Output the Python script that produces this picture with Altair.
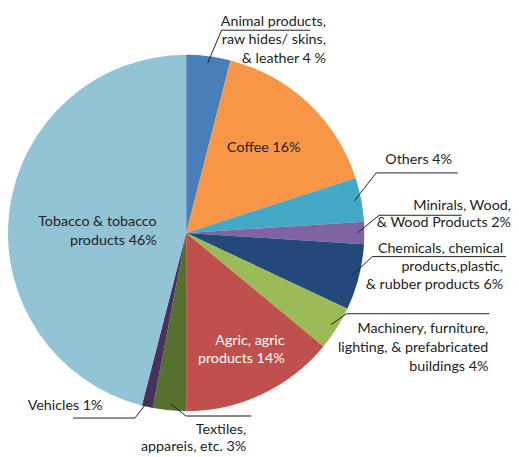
import math
import altair as alt
import pandas as pd

# ---------------- data ----------------
categories = ["Animal products", "Coffee", "Others", "Minerals", "Chemicals",
              "Machinery", "Agric", "Textiles", "Vehicles", "Tobacco"]
shares = [4, 16, 4, 2, 6, 4, 14, 3, 1, 46]
slice_colors = ["#4a7ebb", "#f79646", "#43a9c6", "#7f63a2", "#22497a",
                "#9bbb59", "#c0504d", "#55702f", "#47325e", "#92c4d5"]

label_text = {
    "Animal products": ["Animal products,", "raw hides/ skins,", "& leather 4 %"],
    "Coffee": ["Coffee 16%"],
    "Others": ["Others 4%"],
    "Minerals": ["Minirals, Wood,", "& Wood Products 2%"],
    "Chemicals": ["Chemicals, chemical", "products,plastic,", "& rubber products 6%"],
    "Machinery": ["Machinery, furniture,", "lighting, & prefabricated", "buildings 4%"],
    "Agric": ["Agric, agric", "products 14%"],
    "Textiles": ["Textiles,", "appareis, etc. 3%"],
    "Vehicles": ["Vehicles 1%"],
    "Tobacco": ["Tobacco & tobacco", "products 46%"],
}

# ---------------- layout (page pixel coords) ----------------
W, H = 500, 440
OFF = 8                      # page margin
CX, CY, R = 187, 233, 181    # pie centre and radius on the page
R_LEAD = 174                 # where leader lines start
FONT = "Lato"
FS = 14.5
TXT = "#231f20"

# right edge x, first baseline y, line height, text colour
text_layout = {
    "Animal products": (329, 23, 18.5, TXT),
    "Coffee": (303, 151, 18, TXT),
    "Others": (457, 163, 18, TXT),
    "Minerals": (517, 210, 17, TXT),
    "Chemicals": (509, 253, 18.5, TXT),
    "Machinery": (494, 335, 19, TXT),
    "Agric": (287, 347, 18.5, "#ffffff"),
    "Textiles": (248, 437, 17, TXT),
    "Vehicles": (102, 413, 18, TXT),
    "Tobacco": (157, 226, 19, TXT),
}
# leader elbow (x, y), horizontal end x, colour of horizontal part
leader_layout = {
    "Animal products": (223, 27, 313, "#231f20"),
    "Others": (380, 172, 463, "#231f20"),
    "Minerals": (383, 215, 467, "#231f20"),
    "Chemicals": (376, 257, 512, "#231f20"),
    "Machinery": (350, 315, 495, "#231f20"),
    "Textiles": (187, 419, 253, "#8a8a8a"),
    "Vehicles": (135, 421, 72, "#231f20"),
}

# ---------------- build tables ----------------
pie_df = pd.DataFrame({"cat": categories, "share": shares,
                       "ord": list(range(len(categories)))})

total = sum(shares)
cum = 0
mid_angle = {}
for c, v in zip(categories, shares):
    mid_angle[c] = 2 * math.pi * (cum + v / 2) / total
    cum += v

seg_rows = []
for c, (ex, ey, hx, hcol) in leader_layout.items():
    a = mid_angle[c]
    sx = CX + R_LEAD * math.sin(a)
    sy = CY - R_LEAD * math.cos(a)
    seg_rows.append({"x": sx, "y": sy, "x2": ex, "y2": ey, "col": "#231f20", "w": 1})
    seg_rows.append({"x": ex, "y": ey, "x2": hx, "y2": ey, "col": hcol,
                     "w": 2 if hcol != "#231f20" else 1})
seg_df = pd.DataFrame(seg_rows)

txt_rows = []
for c, lines in label_text.items():
    rx, y0, lh, col = text_layout[c]
    for i, t in enumerate(lines):
        txt_rows.append({"x": rx, "y": y0 + i * lh, "t": t, "col": col})
txt_df = pd.DataFrame(txt_rows)

xs = alt.Scale(domain=[OFF, OFF + W])
ys = alt.Scale(domain=[OFF, OFF + H], reverse=True)

pie = alt.Chart(pie_df).mark_arc(radius=R).encode(
    theta=alt.Theta("share:Q", stack=True),
    order=alt.Order("ord:Q", sort="ascending"),
    color=alt.Color("cat:N", scale=alt.Scale(domain=categories, range=slice_colors),
                    legend=None),
    x=alt.value(CX - OFF),
    y=alt.value(CY - OFF),
)

segs = alt.Chart(seg_df).mark_rule().encode(
    x=alt.X("x:Q", scale=xs, axis=None),
    y=alt.Y("y:Q", scale=ys, axis=None),
    x2="x2:Q",
    y2="y2:Q",
    color=alt.Color("col:N", scale=None),
    strokeWidth=alt.StrokeWidth("w:Q", scale=None),
)

texts = alt.Chart(txt_df).mark_text(
    align="right", baseline="alphabetic", font=FONT, fontSize=FS
).encode(
    x=alt.X("x:Q", scale=xs, axis=None),
    y=alt.Y("y:Q", scale=ys, axis=None),
    text="t:N",
    color=alt.Color("col:N", scale=None),
)

chart = alt.layer(pie, segs, texts).properties(
    width=W, height=H, padding=0
).configure_view(stroke=None)

chart.save("out.html", embed_options={"renderer": "svg", "actions": False})
